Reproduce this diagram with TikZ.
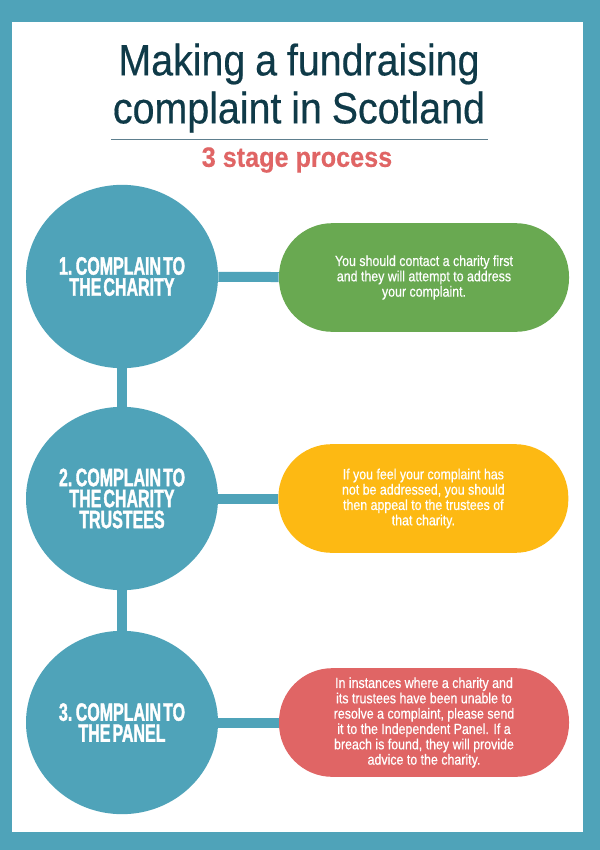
\documentclass[tikz,border=0pt]{standalone}
\usepackage{fontspec}
\usepackage{tikz}
\usetikzlibrary{positioning,shapes.geometric}
\setmainfont{Liberation Sans}
\newfontfamily\titlefont[FakeStretch=0.895,FakeBold=0.4,WordSpace=0.9]{Liberation Sans}
\newfontfamily\notefont[FakeStretch=0.845,FakeBold=0.5]{Liberation Sans}
\newfontfamily\subfont[FakeStretch=0.90,FakeBold=0.3]{Liberation Sans Bold}
\newfontfamily\stagefont[FakeStretch=0.635,FakeBold=1.4,WordSpace=0.45]{Liberation Sans Bold}
\definecolor{frameblue}{HTML}{4FA3B9}
\definecolor{titleink}{HTML}{0F3A48}
\definecolor{ruleink}{HTML}{5E7F8E}
\definecolor{redbox}{HTML}{E06565}
\definecolor{greenbox}{HTML}{69A951}
\definecolor{yellowbox}{HTML}{FDB913}

\begin{document}
\begin{tikzpicture}[%
    x=0.75pt,
    y=-0.75pt,
    on grid,
    stage/.style={ellipse, fill=frameblue, text=white, inner sep=0pt,
        minimum width=144pt, minimum height=137.5pt, align=center,
        font=\stagefont\fontsize{18.9}{15.75}\selectfont},
    note/.style={rectangle, rounded corners=40pt, text=white, inner sep=0pt,
        minimum width=217.5pt, minimum height=81.5pt, align=center,
        execute at begin node={\rule{0pt}{11pt}},
        font=\notefont\fontsize{11}{11.5}\selectfont},
    link/.style={draw=frameblue, line width=7.5pt}
    ]
    \fill[frameblue] (0,0) rectangle (600,850);
    \fill[white] (12,22) rectangle (583,832);

    \node[font=\titlefont\fontsize{33}{36}\selectfont, text=titleink, align=center] (title) at (299,88)
        {Making a fundraising\\complaint in Scotland};
    \coordinate (ruleleft) at (111,139.5);
    \coordinate (ruleright) at (488,139.5);
    \draw[ruleink, line width=0.6pt] (ruleleft) -- (ruleright);
    \node[font=\subfont\fontsize{21}{24}\selectfont, text=redbox] (subtitle) at (297,160) {3 stage process};

    \node[stage] (one) at (122,276.5) {1. COMPLAIN TO\\THE CHARITY};
    \node[stage, below=166.5pt of one] (two) {2. COMPLAIN TO\\THE CHARITY\\TRUSTEES};
    \node[stage, below=168pt of two] (three) {3. COMPLAIN TO\\THE PANEL};

    \node[note, fill=greenbox, right=226.5pt of one, yshift=-0.75pt] (onenote)
        {You should contact a charity first\\and they will attempt to address\\your complaint.};
    \node[note, fill=yellowbox, right=226pt of two] (twonote)
        {If you feel your complaint has\\not be addressed, you should\\then appeal to the trustees of\\that charity.};
    \node[note, fill=redbox, right=226.5pt of three] (threenote)
        {In instances where a charity and\\its trustees have been unable to\\resolve a complaint, please send\\it to the Independent Panel. If a\\breach is found, they will provide\\advice to the charity.};

    \path[link] (one) edge (two);
    \path[link] (two) edge (three);
    \path[link] (one) edge (onenote);
    \path[link] (two) edge (twonote);
    \path[link] (three) edge (threenote);
\end{tikzpicture}
\end{document}
